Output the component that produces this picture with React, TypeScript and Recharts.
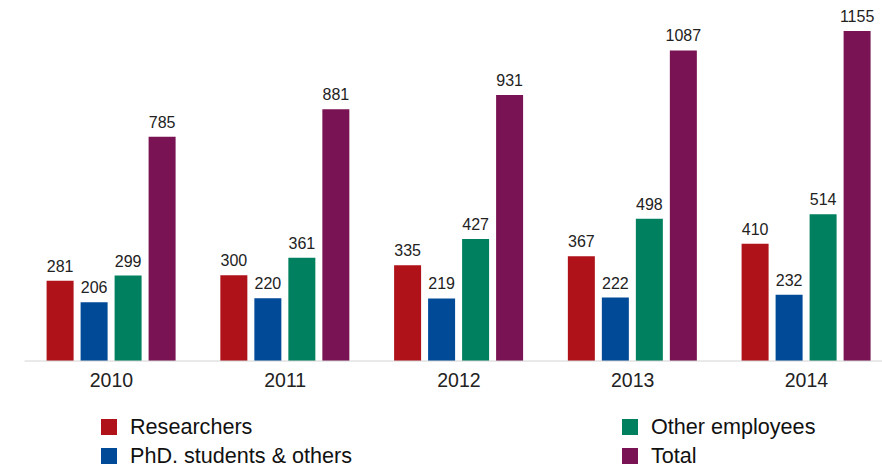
import React from "react";
import { BarChart, Bar, XAxis, YAxis, LabelList } from "recharts";

const years = ["2010", "2011", "2012", "2013", "2014"];
const researchers = [281, 300, 335, 367, 410];
const phdStudents = [206, 220, 219, 222, 232];
const otherEmployees = [299, 361, 427, 498, 514];
const total = [785, 881, 931, 1087, 1155];

const series = [
  { key: "researchers", name: "Researchers", color: "#B0121A" },
  { key: "phd", name: "PhD. students & others", color: "#004A98" },
  { key: "other", name: "Other employees", color: "#00805F" },
  { key: "total", name: "Total", color: "#7A1353" },
];

const data = years.map((year, i) => ({
  year,
  researchers: researchers[i],
  phd: phdStudents[i],
  other: otherEmployees[i],
  total: total[i],
}));

const FONT = '"Liberation Sans", Arial, Helvetica, sans-serif';

// legend columns: left holds first two series, right the last two
const legendPos = [
  { left: 101, top: 419 },
  { left: 101, top: 448 },
  { left: 622, top: 419 },
  { left: 622, top: 448 },
];

export default function App() {
  return (
    <div
      style={{
        position: "absolute",
        left: 0,
        top: 0,
        width: 882,
        height: 469,
        overflow: "hidden",
        background: "#fff",
        fontFamily: FONT,
      }}
    >
      <BarChart
        width={900}
        height={469}
        data={data}
        margin={{ top: 18.14, right: 6.65, bottom: 78, left: 24.6 }}
        barSize={27}
        barGap={7}
      >
        <XAxis
          dataKey="year"
          axisLine={{ stroke: "#d4d4d4", strokeWidth: 1 }}
          tickLine={false}
          tickSize={0}
          tickMargin={12}
          tick={{ fill: "#222", fontSize: 19.5, fontFamily: FONT }}
          height={30}
        />
        <YAxis hide domain={[0, 1200]} />
        {series.map((s) => (
          <Bar
            key={s.key}
            dataKey={s.key}
            name={s.name}
            fill={s.color}
            isAnimationActive={false}
          >
            <LabelList
              dataKey={s.key}
              position="top"
              offset={9}
              fill="#222"
              fontSize={16}
              fontFamily={FONT}
            />
          </Bar>
        ))}
      </BarChart>
      {series.map((s, i) => (
        <div
          key={s.key}
          style={{
            position: "absolute",
            left: legendPos[i].left,
            top: legendPos[i].top,
            display: "flex",
            alignItems: "center",
            height: 16,
          }}
        >
          <div style={{ width: 16, height: 16, background: s.color }} />
          <span
            style={{
              marginLeft: 13,
              fontSize: 21.6,
              color: "#111",
              lineHeight: "16px",
              whiteSpace: "nowrap",
            }}
          >
            {s.name}
          </span>
        </div>
      ))}
    </div>
  );
}
